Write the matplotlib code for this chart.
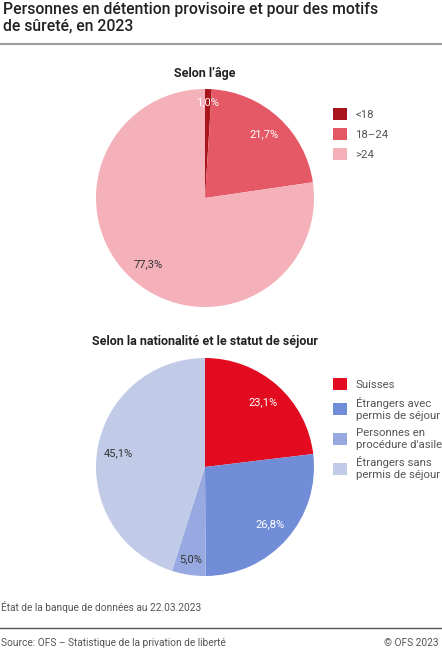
import matplotlib.pyplot as plt
from matplotlib.lines import Line2D
import numpy as np

plt.rcParams['font.family'] = ['Roboto', 'DejaVu Sans']

# Data
age_labels = ['<18', '18–24', '>24']
age_values = [1.0, 21.7, 77.3]
age_colors = ['#a8161c', '#e55866', '#f4b1b9']
age_text_colors = ['white', 'white', '#333333']

nat_labels = ['Suisses', 'Étrangers avec\npermis de séjour',
              'Personnes en\nprocédure d\'asile', 'Étrangers sans\npermis de séjour']
nat_values = [23.1, 26.8, 5.0, 45.1]
nat_colors = ['#e20b1f', '#728dd8', '#97a9e0', '#c1cbe8']
nat_text_colors = ['white', 'white', '#333333', '#333333']

W, H = 442, 650
fig = plt.figure(figsize=(W / 100, H / 100), dpi=100)


def draw_pie(cx, cy, r, values, colors, text_colors, dists):
    ax = fig.add_axes([(cx - r) / W, 1 - (cy + r) / H, 2 * r / W, 2 * r / H])
    wedges, _ = ax.pie(values, colors=colors, startangle=90, counterclock=False,
                       radius=1, wedgeprops=dict(linewidth=0))
    for w, v, c, d in zip(wedges, values, text_colors, dists):
        ang = np.deg2rad((w.theta1 + w.theta2) / 2)
        ax.text(d * np.cos(ang), d * np.sin(ang), f'{v:.1f}%'.replace('.', ','),
                ha='center', va='center', fontsize=8, color=c)
    ax.set_xlim(-1, 1)
    ax.set_ylim(-1, 1)
    ax.set_aspect('equal')
    return ax, wedges


ax1, w1 = draw_pie(205, 198, 109, age_values, age_colors, age_text_colors, [0.88, 0.8, 0.8])
ax2, w2 = draw_pie(205, 467, 109, nat_values, nat_colors, nat_text_colors, [0.8, 0.8, 0.86, 0.8])

leg_kw = dict(loc='upper left', bbox_transform=fig.transFigure, frameon=False,
              borderpad=0, borderaxespad=0, handlelength=1.23, handleheight=1.23,
              handletextpad=0.75, fontsize=8.2, labelcolor='#555555')
leg1 = ax1.legend(w1, age_labels, bbox_to_anchor=(333 / W, 1 - 108 / H), labelspacing=0.7, **leg_kw)
leg2 = ax2.legend(w2, nat_labels, bbox_to_anchor=(333 / W, 1 - 378 / H), labelspacing=0.6, **leg_kw)
for t in leg2.get_texts():
    t.set_linespacing(1.25)

# Texts
fig.text(3 / W, 1 - 2 / H, 'Personnes en détention provisoire et pour des motifs\nde sûreté, en 2023',
         ha='left', va='top', fontsize=11.3, weight='medium', color='#222222', linespacing=1.1)
fig.add_artist(Line2D([0, 1], [1 - 44 / H] * 2, color='#9e9e9e', lw=1.5))

fig.text(205 / W, 1 - 73 / H, 'Selon l’âge', ha='center', va='center',
         fontsize=9, weight='bold', color='#222222')
fig.text(205 / W, 1 - 341 / H, 'Selon la nationalité et le statut de séjour', ha='center', va='center',
         fontsize=9, weight='bold', color='#222222')

fig.text(1 / W, 1 - 607 / H, 'État de la banque de données au 22.03.2023',
         ha='left', va='center', fontsize=7.3, color='#555555')
fig.add_artist(Line2D([0, 1], [1 - 628 / H] * 2, color='#555555', lw=1))
fig.text(1 / W, 1 - 643 / H, 'Source: OFS – Statistique de la privation de liberté',
         ha='left', va='center', fontsize=7.3, color='#555555')
fig.text(439 / W, 1 - 643 / H, '© OFS 2023', ha='right', va='center', fontsize=7.3, color='#555555')

fig.savefig('out.png', dpi=100)
